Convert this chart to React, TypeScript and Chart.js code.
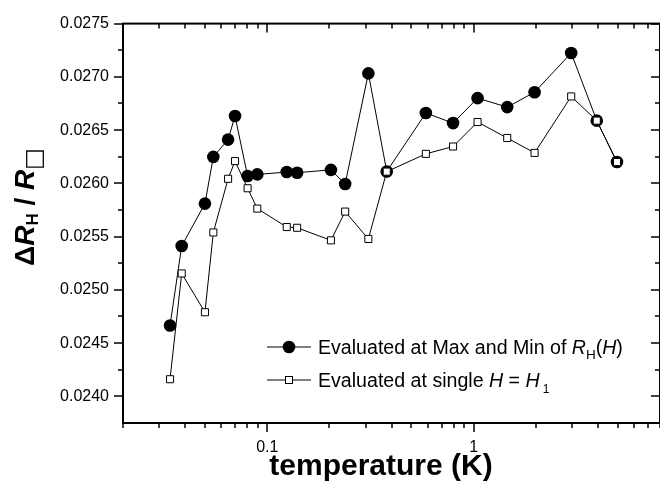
import React, { useEffect, useRef } from 'react';
import { Chart, registerables } from 'chart.js';

Chart.register(...registerables);

// ---- data ----
const temperatures = [0.0338, 0.0385, 0.0499, 0.0548, 0.0646, 0.0698, 0.0803, 0.0895, 0.1243, 0.1396, 0.2035, 0.2385, 0.309, 0.3793, 0.587, 0.795, 1.045, 1.455, 1.974, 2.97, 3.95, 4.95];
const maxMinValues = [0.024665, 0.025412, 0.02581, 0.026249, 0.026411, 0.026632, 0.026069, 0.026084, 0.026106, 0.0261, 0.026127, 0.025994, 0.027033, 0.026112, 0.02666, 0.026566, 0.0268, 0.026716, 0.026856, 0.027224, 0.026589, 0.0262];
const singleHValues = [0.024161, 0.025154, 0.02479, 0.025539, 0.026043, 0.026209, 0.025954, 0.025763, 0.02559, 0.025583, 0.025465, 0.025735, 0.025478, 0.02611, 0.026277, 0.026346, 0.026576, 0.026426, 0.026286, 0.026816, 0.026589, 0.0262];

const xMajorTicks = [0.1, 1];
const xMinorTicks = [0.02, 0.03, 0.04, 0.05, 0.06, 0.07, 0.08, 0.09, 0.2, 0.3, 0.4, 0.5, 0.6, 0.7, 0.8, 0.9, 2, 3, 4, 5, 6, 7, 8];
const yMajorTicks = [0.024, 0.0245, 0.025, 0.0255, 0.026, 0.0265, 0.027, 0.0275];
const yMinorTicks = [0.02425, 0.02475, 0.02525, 0.02575, 0.02625, 0.02675, 0.02725];

const xTitle = 'temperature (K)';
const FONT = '"Liberation Sans", Arial, Helvetica, sans-serif';

type Seg = { text: string; font: string; dy?: number; gap?: number };

const yTitleSegs: Seg[] = [
  { text: '\u0394', font: `bold 28px ${FONT}` },
  { text: 'R', font: `italic bold 28px ${FONT}` },
  { text: 'H', font: `bold 17px ${FONT}`, dy: 4 },
  { text: ' / ', font: `bold 28px ${FONT}` },
  { text: 'R', font: `italic bold 28px ${FONT}` },
  { text: '\u25A1', font: `23px "DejaVu Sans", ${FONT}`, dy: 7 },
];

const legendRows: Seg[][] = [
  [
    { text: 'Evaluated at Max and Min of ', font: `19.6px ${FONT}` },
    { text: 'R', font: `italic 19.6px ${FONT}` },
    { text: 'H', font: `13.5px ${FONT}`, dy: 5 },
    { text: '(', font: `19.6px ${FONT}` },
    { text: 'H', font: `italic 19.6px ${FONT}` },
    { text: ')', font: `19.6px ${FONT}` },
  ],
  [
    { text: 'Evaluated at single ', font: `19.6px ${FONT}` },
    { text: 'H', font: `italic 19.6px ${FONT}` },
    { text: ' = ', font: `19.6px ${FONT}` },
    { text: 'H', font: `italic 19.6px ${FONT}` },
    { text: '1', font: `12px ${FONT}`, dy: 6, gap: 3 },
  ],
];

function segWidth(ctx: CanvasRenderingContext2D, segs: Seg[]) {
  let w = 0;
  for (const s of segs) {
    ctx.font = s.font;
    w += (s.gap || 0) + ctx.measureText(s.text).width;
  }
  return w;
}

function drawSegs(ctx: CanvasRenderingContext2D, segs: Seg[], x: number, y: number) {
  let cx = x;
  ctx.textBaseline = 'alphabetic';
  ctx.textAlign = 'left';
  for (const s of segs) {
    ctx.font = s.font;
    cx += s.gap || 0;
    ctx.fillText(s.text, cx, y + (s.dy || 0));
    cx += ctx.measureText(s.text).width;
  }
}

const framePlugin = {
  id: 'frameAndTicks',
  afterDatasetsDraw(chart: any) {
    const { ctx, chartArea } = chart;
    const { left, right, top, bottom } = chartArea;
    const xs = chart.scales.x;
    const ys = chart.scales.y;
    ctx.save();
    ctx.strokeStyle = '#000';
    ctx.lineWidth = 1.5;
    const line = (x1: number, y1: number, x2: number, y2: number) => {
      ctx.beginPath();
      ctx.moveTo(x1, y1);
      ctx.lineTo(x2, y2);
      ctx.stroke();
    };
    const xt = [...xMajorTicks.map((v) => [v, 9]), ...xMinorTicks.map((v) => [v, 5])];
    for (const [v, len] of xt) {
      const px = Math.round(xs.getPixelForValue(v));
      line(px, bottom, px, bottom + len);
      line(px, top, px, top + len);
    }
    const yt = [...yMajorTicks.map((v) => [v, 9]), ...yMinorTicks.map((v) => [v, 5])];
    for (const [v, len] of yt) {
      const py = Math.round(ys.getPixelForValue(v));
      line(left - len, py, left, py);
      line(right - len, py, right, py);
    }
    ctx.lineWidth = 2;
    ctx.strokeRect(left, top, right - left, bottom - top);
    ctx.restore();
  },
  afterDraw(chart: any) {
    const { ctx } = chart;
    ctx.save();
    ctx.fillStyle = '#000';
    // x title
    ctx.font = `bold 30px ${FONT}`;
    const wx = ctx.measureText(xTitle).width;
    ctx.textBaseline = 'alphabetic';
    ctx.fillText(xTitle, 381 - wx / 2, 475);
    // y title (rotated)
    ctx.save();
    ctx.translate(34, 207);
    ctx.rotate(-Math.PI / 2);
    const wy = segWidth(ctx, yTitleSegs);
    drawSegs(ctx, yTitleSegs, -wy / 2, 0);
    ctx.restore();
    // legend
    const ds = chart.data.datasets;
    const rowsY = [347, 380];
    legendRows.forEach((segs, i) => {
      const d = ds[i];
      const cy = rowsY[i];
      ctx.strokeStyle = d.borderColor;
      ctx.lineWidth = d.borderWidth;
      ctx.beginPath();
      ctx.moveTo(267, cy);
      ctx.lineTo(311, cy);
      ctx.stroke();
      ctx.fillStyle = d.pointBackgroundColor;
      ctx.strokeStyle = d.pointBorderColor;
      ctx.lineWidth = d.pointBorderWidth || 1;
      if (d.pointStyle === 'circle') {
        ctx.beginPath();
        ctx.arc(289, cy, d.pointRadius, 0, Math.PI * 2);
        ctx.fill();
      } else {
        const s = 7;
        ctx.fillRect(289 - s / 2, cy - s / 2, s, s);
        ctx.strokeRect(289 - s / 2, cy - s / 2, s, s);
      }
      ctx.fillStyle = '#000';
      drawSegs(ctx, segs, 318, cy + 6.5);
    });
    ctx.restore();
  },
};

export default function App() {
  const ref = useRef<HTMLCanvasElement | null>(null);
  useEffect(() => {
    document.body.style.margin = '0';
    const canvas = ref.current;
    if (!canvas) return;
    const chart = new Chart(canvas, {
      type: 'line',
      data: {
        datasets: [
          {
            label: 'Evaluated at Max and Min of RH(H)',
            data: temperatures.map((t, i) => ({ x: t, y: maxMinValues[i] })),
            borderColor: '#000',
            borderWidth: 1,
            pointStyle: 'circle',
            pointRadius: 6.3,
            pointBackgroundColor: '#000',
            pointBorderColor: '#000',
            pointBorderWidth: 0,
            tension: 0,
            order: 1,
          },
          {
            label: 'Evaluated at single H = H1',
            data: temperatures.map((t, i) => ({ x: t, y: singleHValues[i] })),
            borderColor: '#000',
            borderWidth: 1,
            pointStyle: 'rect',
            pointRadius: 5,
            pointBackgroundColor: '#fff',
            pointBorderColor: '#000',
            pointBorderWidth: 1,
            tension: 0,
            order: 0,
          },
        ] as any,
      },
      options: {
        responsive: false,
        maintainAspectRatio: false,
        animation: false,
        devicePixelRatio: 1,
        layout: { padding: { left: 0, top: 21, right: 5.5, bottom: 0 } },
        plugins: { legend: { display: false }, tooltip: { enabled: false } },
        scales: {
          x: {
            type: 'logarithmic',
            position: 'bottom',
            min: 0.02,
            max: 8,
            afterBuildTicks: (s: any) => {
              s.ticks = [...xMinorTicks, ...xMajorTicks].sort((a, b) => a - b).map((v) => ({ value: v }));
            },
            afterFit: (s: any) => {
              s.height = 66;
            },
            grid: { display: false, drawTicks: false },
            border: { display: false },
            ticks: {
              autoSkip: false,
              maxRotation: 0,
              padding: 15,
              color: '#000',
              font: { family: FONT, size: 16 },
              callback: (v: any) => (xMajorTicks.includes(Number(v)) ? String(v) : ''),
            },
          },
          y: {
            type: 'linear',
            position: 'left',
            min: 0.02375,
            max: 0.0275,
            afterBuildTicks: (s: any) => {
              s.ticks = yMajorTicks.map((v) => ({ value: v }));
            },
            afterFit: (s: any) => {
              s.width = 123;
            },
            grid: { display: false, drawTicks: false },
            border: { display: false },
            ticks: {
              padding: 14,
              color: '#000',
              font: { family: FONT, size: 16 },
              callback: (v: any) => Number(v).toFixed(4),
            },
          },
        },
      } as any,
      plugins: [framePlugin],
    });
    return () => chart.destroy();
  }, []);
  return (
    <div style={{ width: 660, height: 489, overflow: 'hidden', position: 'relative', background: '#fff' }}>
      <canvas ref={ref} width={675} height={489} style={{ display: 'block' }} />
    </div>
  );
}
